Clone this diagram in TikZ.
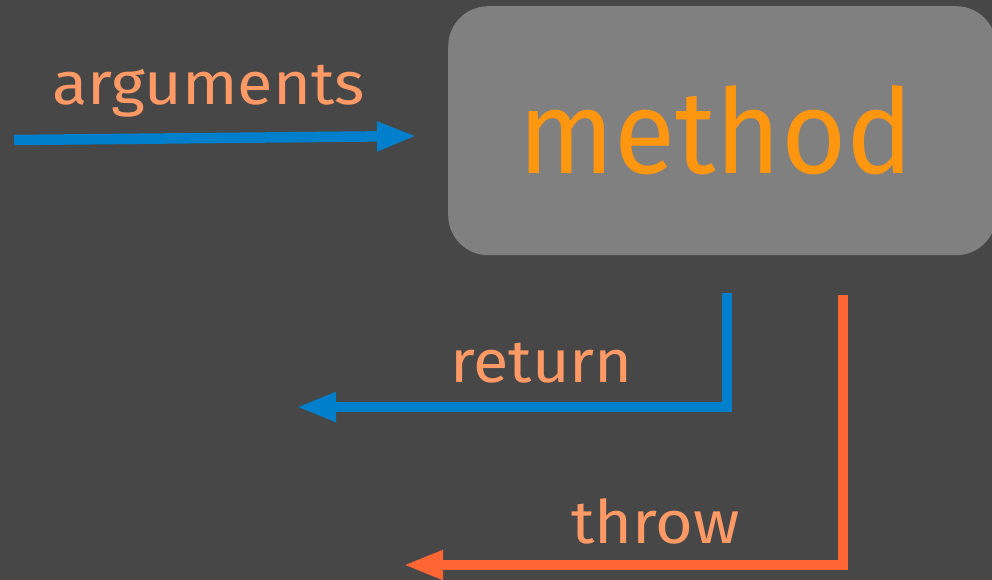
\documentclass[tikz,border=0pt]{standalone}
\usepackage{fontspec}
\setmainfont{Fira Sans}
\usetikzlibrary{arrows.meta}
\definecolor{bgc}{HTML}{474747}
\definecolor{boxc}{HTML}{808080}
\definecolor{methc}{HTML}{FF9610}
\definecolor{labc}{HTML}{FF9966}
\definecolor{bluec}{HTML}{0080CC}
\definecolor{redc}{HTML}{FF6633}
\newcommand{\widetext}[1]{\scalebox{1.08}[1]{#1}}
\tikzset{
  lab/.style={text=labc, font=\fontsize{60}{64}\selectfont, inner sep=0pt, anchor=base west},
  flow/.style={line width=10.5pt, -{Triangle[length=40pt,width=27pt]}},
}
\begin{document}
\begin{tikzpicture}[x=1pt,y=-1pt]
\fill[bgc] (0,0) rectangle (992,580);
\useasboundingbox (0,0) rectangle (992,580);
% method box
\node[fill=boxc, rounded corners=40pt, minimum width=548pt, minimum height=249pt, inner sep=0pt, anchor=north west] (box) at (448,6) {};
\node[text=methc, font=\fontsize{112}{116}\selectfont, inner sep=0pt, anchor=base west] (meth) at (518,174) {\scalebox{1}[1.05]{method}};
% labels
\node[lab] (arg) at (52,105) {\widetext{arguments}};
\node[lab] (ret) at (450,382) {\widetext{return}};
\node[lab] (thr) at (571,543) {\widetext{throw}};
% connectors
\coordinate (a0) at (14,140);
\coordinate (a1) at (417,136);
\draw[flow, bluec] (a0) -- (a1);
\coordinate (r0) at (727,293);
\coordinate (r1) at (296,407);
\draw[flow, bluec] (r0) |- (r1);
\coordinate (t0) at (843,295);
\coordinate (t1) at (403,565);
\draw[flow, redc] (t0) |- (t1);
\end{tikzpicture}
\end{document}
